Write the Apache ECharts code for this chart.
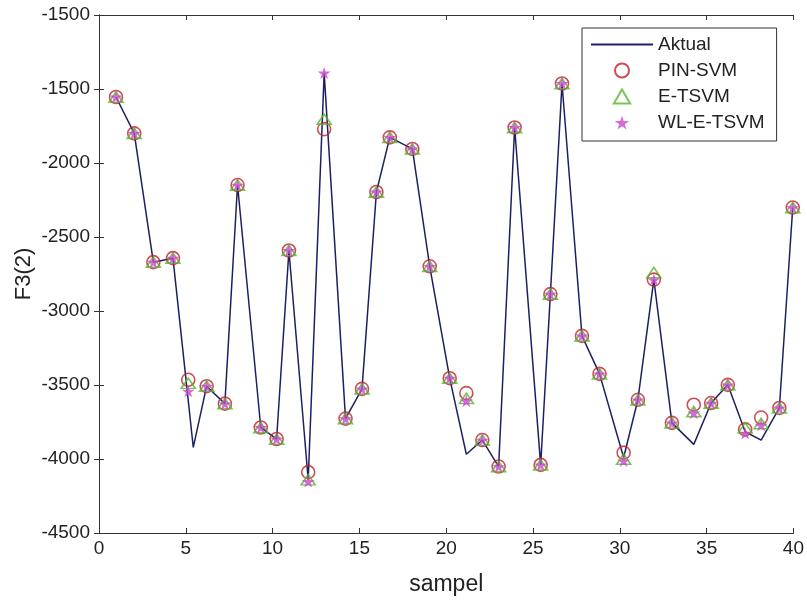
<!DOCTYPE html>
<html><head><meta charset="utf-8">
<script src="https://cdn.jsdelivr.net/npm/echarts@6/dist/echarts.min.js"></script>
<style>html,body{margin:0;padding:0;background:#fff}#c{width:807px;height:601px}</style>
</head><body><div id="c"></div>
<script>
// sample positions of the markers
const sampleX = [0.98,2.03,3.13,4.26,5.14,6.20,7.25,7.98,9.32,10.23,10.94,12.05,12.97,14.2,15.15,15.98,16.75,18.05,19.05,20.2,21.16,22.08,23.02,23.94,25.44,26.0,26.67,27.82,28.83,30.22,31.04,31.96,33.0,34.26,35.26,36.22,37.22,38.14,39.19,39.96];
// x positions of the actual line vertices
const actualX = [0.98,2.03,3.13,4.26,5.43,6.20,7.25,7.98,9.32,10.23,10.94,12.05,12.97,14.2,15.15,15.98,16.75,18.05,19.05,20.2,21.16,22.08,23.02,23.94,25.44,26.0,26.67,27.82,28.83,30.22,31.04,31.96,33.0,34.26,35.26,36.22,37.22,38.14,39.19,39.96];
const aktual = [-1554,-1800,-2670,-2643,-3921,-3508,-3626,-2149,-3787,-3865,-2591,-4140,-1391,-3727,-3526,-2196,-1827,-1905,-2698,-3454,-3968,-3872,-4051,-1760,-4040,-2886,-1463,-3168,-3425,-3990,-3600,-2788,-3756,-3901,-3622,-3499,-3816,-3872,-3655,-2301];
const pinSvm = [-1554,-1800,-2670,-2643,-3465,-3508,-3626,-2149,-3787,-3865,-2591,-4089,-1771,-3727,-3526,-2196,-1827,-1905,-2698,-3454,-3555,-3872,-4051,-1760,-4040,-2886,-1463,-3168,-3425,-3957,-3600,-2788,-3756,-3633,-3622,-3499,-3800,-3720,-3655,-2301];
const eTsvm = [-1554,-1800,-2670,-2643,-3488,-3508,-3626,-2149,-3787,-3865,-2591,-4140,-1704,-3727,-3526,-2196,-1827,-1905,-2698,-3454,-3590,-3872,-4051,-1760,-4040,-2886,-1463,-3168,-3425,-4000,-3600,-2740,-3756,-3680,-3622,-3499,-3790,-3760,-3655,-2301];
const wlETsvm = [-1554,-1800,-2670,-2643,-3541,-3508,-3626,-2149,-3787,-3865,-2591,-4151,-1391,-3727,-3526,-2196,-1827,-1905,-2698,-3454,-3608,-3872,-4051,-1760,-4040,-2886,-1463,-3168,-3425,-4013,-3600,-2788,-3756,-3689,-3622,-3499,-3826,-3771,-3655,-2301];
const yTickLabels = ['-4500','-4000','-3500','-3000','-2500','-2000','-1500','-1500'];
const xTickLabels = ['0','5','10','15','20','25','30','35','40'];

const pair = (xs, ys) => ys.map((v, i) => [xs[i], v]);
const star = 'path://M50,0 L61,35 L98,35 L68,57 L79,91 L50,70 L21,91 L32,57 L2,35 L39,35 Z';
const tri = 'path://M50,0 L100,86 L0,86 Z';
const font = 'Liberation Sans, Arial, sans-serif';

const chart = echarts.init(document.getElementById('c'), null, {renderer: 'canvas'});
const axisLine = {show: true, lineStyle: {color: '#333', width: 1}};
const tick = {show: true, inside: true, length: 5, lineStyle: {color: '#333'}};
chart.setOption({
  animation: false,
  backgroundColor: '#fff',
  grid: {left: 99, right: 13, top: 15, bottom: 64, containLabel: false},
  xAxis: [
    {type: 'value', min: 0, max: 40, interval: 5, axisLine, axisTick: tick, splitLine: {show: false},
     axisLabel: {fontSize: 19, color: '#222', fontFamily: font, margin: 6,
       formatter: v => xTickLabels[Math.round(v / 5)]},
     name: 'sampel', nameLocation: 'middle', nameGap: 40, nameMoveOverlap: false,
     nameTextStyle: {fontSize: 23, color: '#222', fontFamily: font}},
    {type: 'value', position: 'top', min: 0, max: 40, interval: 5, axisLine, axisTick: tick,
     splitLine: {show: false}, axisLabel: {show: false}}
  ],
  yAxis: [
    {type: 'value', min: -4500, max: -1000, interval: 500, axisLine, axisTick: tick, splitLine: {show: false},
     axisLabel: {fontSize: 19, color: '#222', fontFamily: font, margin: 9,
       formatter: v => yTickLabels[Math.round((v + 4500) / 500)]},
     name: 'F3(2)', nameLocation: 'middle', nameGap: 75, nameRotate: 90, nameMoveOverlap: false,
     nameTextStyle: {fontSize: 22, color: '#222', fontFamily: font, verticalAlign: 'middle'}},
    {type: 'value', position: 'right', min: -4500, max: -1000, interval: 500, axisLine, axisTick: tick,
     splitLine: {show: false}, axisLabel: {show: false}}
  ],
  legend: {
    orient: 'vertical', left: 582, top: 28,
    padding: [7, 12, 9, 8], itemGap: 7, itemWidth: 62, itemHeight: 14,
    borderColor: '#333', borderWidth: 1, backgroundColor: '#fff',
    textStyle: {fontSize: 19, color: '#222', fontFamily: font},
    data: ['Aktual', 'PIN-SVM', 'E-TSVM', 'WL-E-TSVM']
  },
  series: [
    {name: 'Aktual', type: 'line', data: pair(actualX, aktual), symbol: 'none',
     lineStyle: {color: '#1c2062', width: 1.5}, itemStyle: {color: 'rgba(0,0,0,0)', borderWidth: 0}, z: 1},
    {name: 'PIN-SVM', type: 'scatter', data: pair(sampleX, pinSvm), symbol: 'circle', symbolSize: 13,
     itemStyle: {color: 'rgba(0,0,0,0)', borderColor: '#bf2229', borderWidth: 1.6}, z: 2},
    {name: 'E-TSVM', type: 'scatter', data: pair(sampleX, eTsvm), symbol: tri, symbolSize: [14, 12],
     symbolKeepAspect: true,
     itemStyle: {color: 'rgba(0,0,0,0)', borderColor: '#56b52a', borderWidth: 1.6}, z: 3},
    {name: 'WL-E-TSVM', type: 'scatter', data: pair(sampleX, wlETsvm), symbol: star, symbolSize: 13,
     symbolKeepAspect: true, itemStyle: {color: '#c848cc'}, z: 4}
  ]
});
</script></body></html>
